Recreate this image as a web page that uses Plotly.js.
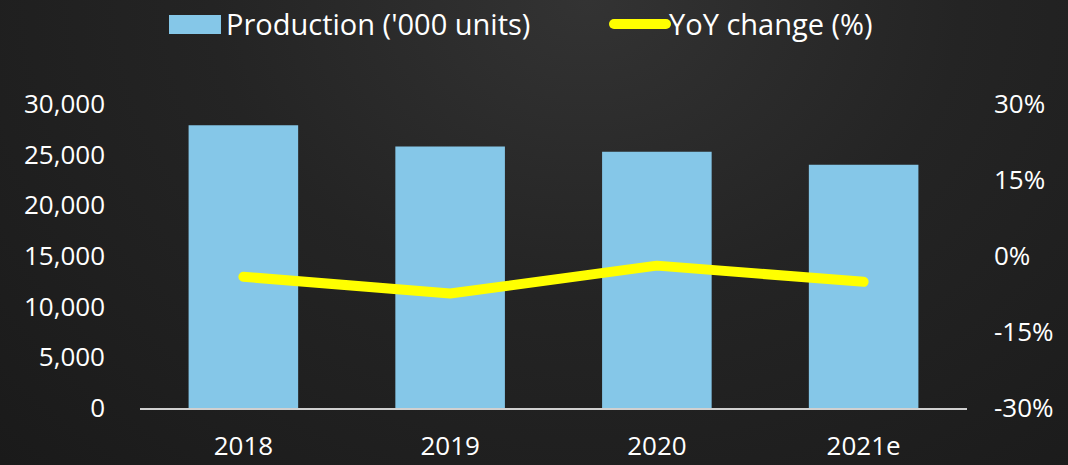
<!DOCTYPE html>
<html>
<head>
<meta charset="utf-8">
<script src="https://cdn.plot.ly/plotly-3.0.1.min.js"></script>
<style>
html,body{margin:0;padding:0;width:1068px;height:465px;overflow:hidden;}
body{background:radial-gradient(ellipse at 55% 0%, #333333 0%, #242424 45%, #1a1a1a 100%);}
#chart{width:1068px;height:465px;}
.scatterlayer path.js-line, .shapelayer path{stroke-linecap:round;stroke-linejoin:round;}
</style>
</head>
<body>
<div id="chart"></div>
<script>
const categories = ['2018', '2019', '2020', '2021e'];
const production = [27900, 25800, 25300, 24000];
const yoyChange = [-4.1, -7.4, -1.9, -5.1];
const leftTicks = [0, 5000, 10000, 15000, 20000, 25000, 30000];
const rightTicks = [-30, -15, 0, 15, 30];
const rightTickLabels = ['-30%', '-15%', '0%', '15%', '30%'];
const seriesNames = ["Production ('000 units)", 'YoY change (%)'];
const barColor = '#85C7E8';
const lineColor = '#FFFF00';

const fam = '"Open Sans", "Noto Sans", sans-serif';
const white = '#ffffff';

// plot area in pixels (for legend placement in paper coords)
const L = 140, R = 967, T = 104, B = 408;
const px = v => (v - L) / (R - L);
const py = v => (B - v) / (B - T);

const data = [
  {
    type: 'bar', name: seriesNames[0], x: categories, y: production,
    marker: {color: barColor}, yaxis: 'y', hoverinfo: 'skip'
  },
  {
    type: 'scatter', mode: 'lines', name: seriesNames[1], x: categories, y: yoyChange,
    line: {color: lineColor, width: 10}, yaxis: 'y2', hoverinfo: 'skip'
  }
];

const layout = {
  width: 1068, height: 465,
  paper_bgcolor: 'rgba(0,0,0,0)', plot_bgcolor: 'rgba(0,0,0,0)',
  margin: {l: L, r: 1068 - R, t: T, b: 465 - B, autoexpand: false},
  font: {family: fam, color: white, size: 26},
  bargap: 0.47,
  showlegend: false,
  shapes: [
    {type: 'rect', xref: 'paper', yref: 'paper', x0: px(169), x1: px(221), y0: py(34), y1: py(15),
     fillcolor: barColor, line: {width: 0}, layer: 'above'},
    {type: 'line', xref: 'paper', yref: 'paper', x0: px(614), x1: px(666), y0: py(24), y1: py(24),
     line: {color: lineColor, width: 10}, layer: 'above'}
  ],
  annotations: [
    {xref: 'paper', yref: 'paper', x: px(224), y: py(23), xanchor: 'left', yanchor: 'middle',
     text: seriesNames[0], showarrow: false, font: {family: fam, color: white, size: 29}},
    {xref: 'paper', yref: 'paper', x: px(667), y: py(23), xanchor: 'left', yanchor: 'middle',
     text: seriesNames[1], showarrow: false, font: {family: fam, color: white, size: 29}}
  ],
  xaxis: {
    type: 'category', showgrid: false, zeroline: false,
    showline: true, linecolor: '#d0d0d0', linewidth: 2,
    ticks: '', ticklabelstandoff: 14,
    tickfont: {family: fam, color: white, size: 26}
  },
  yaxis: {
    range: [0, 30000], tickmode: 'array', tickvals: leftTicks, tickformat: ',d',
    showgrid: false, zeroline: false, showline: false, ticks: '',
    ticklabelstandoff: 34,
    tickfont: {family: fam, color: white, size: 26}
  },
  yaxis2: {
    overlaying: 'y', side: 'right', range: [-30, 30], tickmode: 'array',
    tickvals: rightTicks, ticktext: rightTickLabels,
    showgrid: false, zeroline: false, showline: false, ticks: '',
    ticklabelstandoff: 26,
    tickfont: {family: fam, color: white, size: 26}
  }
};

Plotly.newPlot('chart', data, layout, {displayModeBar: false, staticPlot: true});
</script>
</body>
</html>
